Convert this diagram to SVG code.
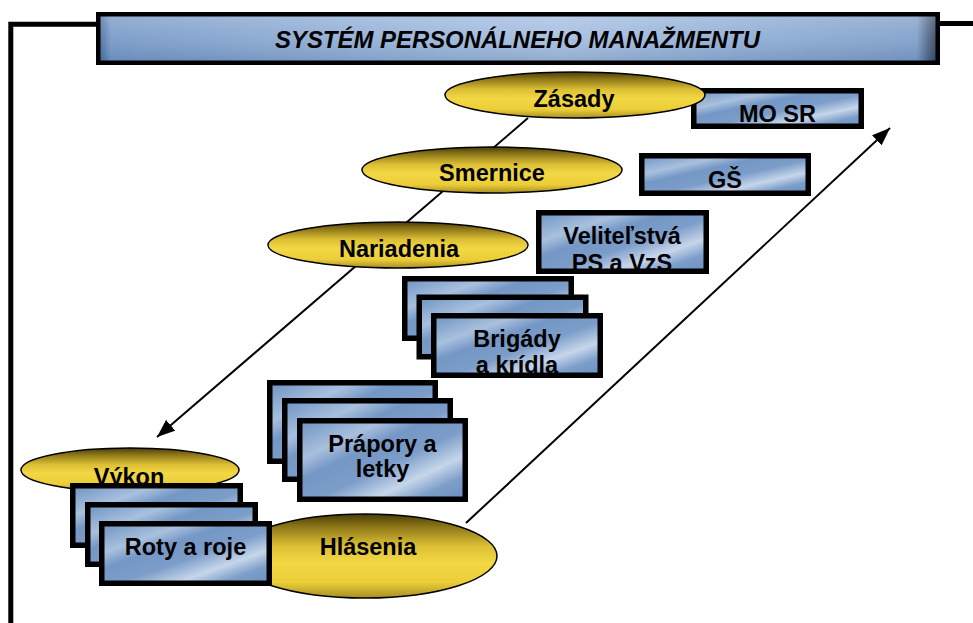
<svg xmlns="http://www.w3.org/2000/svg" width="973" height="623" viewBox="0 0 973 623">
  <defs>
    <linearGradient id="gTitle" x1="0" y1="0" x2="1" y2="0">
      <stop offset="0" stop-color="#3f6596"/>
      <stop offset="0.015" stop-color="#7497c6"/>
      <stop offset="0.3" stop-color="#8fadd5"/>
      <stop offset="0.55" stop-color="#a3bde0"/>
      <stop offset="0.8" stop-color="#8aa9d2"/>
      <stop offset="0.975" stop-color="#7d9dc9"/>
      <stop offset="0.99" stop-color="#4a5f80"/>
      <stop offset="1" stop-color="#2f3d55"/>
    </linearGradient>
    <linearGradient id="gTitleV" x1="0" y1="0" x2="0" y2="1">
      <stop offset="0" stop-color="#ffffff" stop-opacity="0.25"/>
      <stop offset="0.45" stop-color="#ffffff" stop-opacity="0.1"/>
      <stop offset="1" stop-color="#1c3a66" stop-opacity="0.15"/>
    </linearGradient>
    <linearGradient id="gBox" x1="0" y1="0" x2="1" y2="1">
      <stop offset="0" stop-color="#6d92c2"/>
      <stop offset="0.25" stop-color="#a9c0de"/>
      <stop offset="0.38" stop-color="#7497c5"/>
      <stop offset="0.55" stop-color="#7c9dc9"/>
      <stop offset="0.72" stop-color="#c6d6ea"/>
      <stop offset="0.85" stop-color="#7d9ec9"/>
      <stop offset="1" stop-color="#6a8fc0"/>
    </linearGradient>
    <linearGradient id="gEll" x1="0" y1="0" x2="0" y2="1">
      <stop offset="0" stop-color="#4a3c08"/>
      <stop offset="0.15" stop-color="#8c7618"/>
      <stop offset="0.38" stop-color="#dcbf34"/>
      <stop offset="0.58" stop-color="#f2d844"/>
      <stop offset="0.82" stop-color="#ebcd38"/>
      <stop offset="1" stop-color="#a88e22"/>
    </linearGradient>
    <marker id="arr" markerUnits="userSpaceOnUse" markerWidth="20" markerHeight="14" refX="18" refY="7" orient="auto">
      <path d="M0,0 L18,7 L0,14 z" fill="#000"/>
    </marker>
  </defs>
  <style>
    .frame{fill:none;stroke:#000;stroke-width:5}
    .box{fill:url(#gBox)}
    .bord{fill:none;stroke:#000;stroke-width:5.5}
    .ell{fill:url(#gEll);stroke:#000;stroke-width:1.5}
    .lbl{font-family:"Liberation Sans",Arial,sans-serif;font-weight:bold;font-size:23.5px;fill:#000;text-anchor:middle}
    .ttl{font-family:"Liberation Sans",Arial,sans-serif;font-weight:bold;font-style:italic;font-size:24px;fill:#000;text-anchor:middle}
    .con{stroke:#000;stroke-width:2;fill:none}
  </style>

  <g id="frame">
    <path class="frame" d="M10.8,623 V24.2 H98"/>
    <path class="frame" d="M938,23.5 H973"/>
  </g>

  <g id="title">
    <rect x="98.25" y="14.25" width="839.5" height="48.5" fill="url(#gTitle)"/>
    <rect x="98.25" y="14.25" width="839.5" height="48.5" fill="url(#gTitleV)"/>
    <rect x="98.25" y="14.25" width="839.5" height="48.5" fill="none" stroke="#000" stroke-width="4.5"/>
    <text class="ttl" x="517.5" y="47.5" textLength="485" lengthAdjust="spacingAndGlyphs">SYSTÉM PERSONÁLNEHO MANAŽMENTU</text>
  </g>

  <g id="connectors">
    <line class="con" x1="528" y1="118" x2="157" y2="437" marker-end="url(#arr)"/>
    <line class="con" x1="466" y1="523" x2="890" y2="128" marker-end="url(#arr)"/>
  </g>

  <g id="mosr">
    <rect class="box" x="693.75" y="90.75" width="167.5" height="35.5"/>
    <text class="lbl" x="777.5" y="122">MO SR</text>
    <rect class="bord" x="693.75" y="90.75" width="167.5" height="35.5"/>
  </g>

  <g id="zasady">
    <ellipse class="ell" cx="575" cy="95" rx="130" ry="23"/>
    <text class="lbl" x="574" y="107">Zásady</text>
  </g>

  <g id="smernice">
    <ellipse class="ell" cx="492" cy="170" rx="130" ry="23"/>
    <text class="lbl" x="492" y="181">Smernice</text>
  </g>

  <g id="gs">
    <rect class="box" x="641.75" y="155.75" width="166.5" height="37.5"/>
    <text class="lbl" x="725" y="188">GŠ</text>
    <rect class="bord" x="641.75" y="155.75" width="166.5" height="37.5"/>
  </g>

  <g id="nariadenia">
    <ellipse class="ell" cx="398" cy="245" rx="130" ry="23"/>
    <text class="lbl" x="399" y="257">Nariadenia</text>
  </g>

  <g id="velitelstva">
    <rect class="box" x="538.75" y="212.75" width="167.5" height="58.5"/>
    <text class="lbl" x="622" y="244">Veliteľstvá</text>
    <text class="lbl" x="622" y="271">PS a VzS</text>
    <rect class="bord" x="538.75" y="212.75" width="167.5" height="58.5"/>
  </g>

  <g id="brigady">
    <rect class="box" x="404.75" y="278.75" width="166.5" height="59.5"/>
    <rect class="bord" x="404.75" y="278.75" width="166.5" height="59.5"/>
    <rect class="box" x="419.25" y="297.25" width="166.5" height="59.5"/>
    <rect class="bord" x="419.25" y="297.25" width="166.5" height="59.5"/>
    <rect class="box" x="433.75" y="315.75" width="166.5" height="59.5"/>
    <text class="lbl" x="517" y="347">Brigády</text>
    <text class="lbl" x="517" y="373">a krídla</text>
    <rect class="bord" x="433.75" y="315.75" width="166.5" height="59.5"/>
  </g>

  <g id="prapory">
    <rect class="box" x="269.75" y="382.75" width="165.5" height="78.5"/>
    <rect class="bord" x="269.75" y="382.75" width="165.5" height="78.5"/>
    <rect class="box" x="284.75" y="400.75" width="165.5" height="78.5"/>
    <rect class="bord" x="284.75" y="400.75" width="165.5" height="78.5"/>
    <rect class="box" x="299.75" y="420.75" width="165.5" height="78.5"/>
    <text class="lbl" x="382.5" y="452">Prápory a</text>
    <text class="lbl" x="382.5" y="477">letky</text>
    <rect class="bord" x="299.75" y="420.75" width="165.5" height="78.5"/>
  </g>

  <g id="vykon">
    <ellipse class="ell" cx="130" cy="470" rx="109" ry="22"/>
    <text class="lbl" x="129" y="485">Výkon</text>
  </g>

  <g id="hlasenia">
    <ellipse class="ell" cx="365" cy="556" rx="132" ry="42"/>
    <text class="lbl" x="368" y="555">Hlásenia</text>
  </g>

  <g id="roty">
    <rect class="box" x="72.75" y="485.75" width="167.5" height="59.5"/>
    <rect class="bord" x="72.75" y="485.75" width="167.5" height="59.5"/>
    <rect class="box" x="87.75" y="504.75" width="167.5" height="59.5"/>
    <rect class="bord" x="87.75" y="504.75" width="167.5" height="59.5"/>
    <rect class="box" x="101.75" y="523.75" width="167.5" height="59.5"/>
    <text class="lbl" x="185.5" y="555">Roty a roje</text>
    <rect class="bord" x="101.75" y="523.75" width="167.5" height="59.5"/>
  </g>
</svg>
